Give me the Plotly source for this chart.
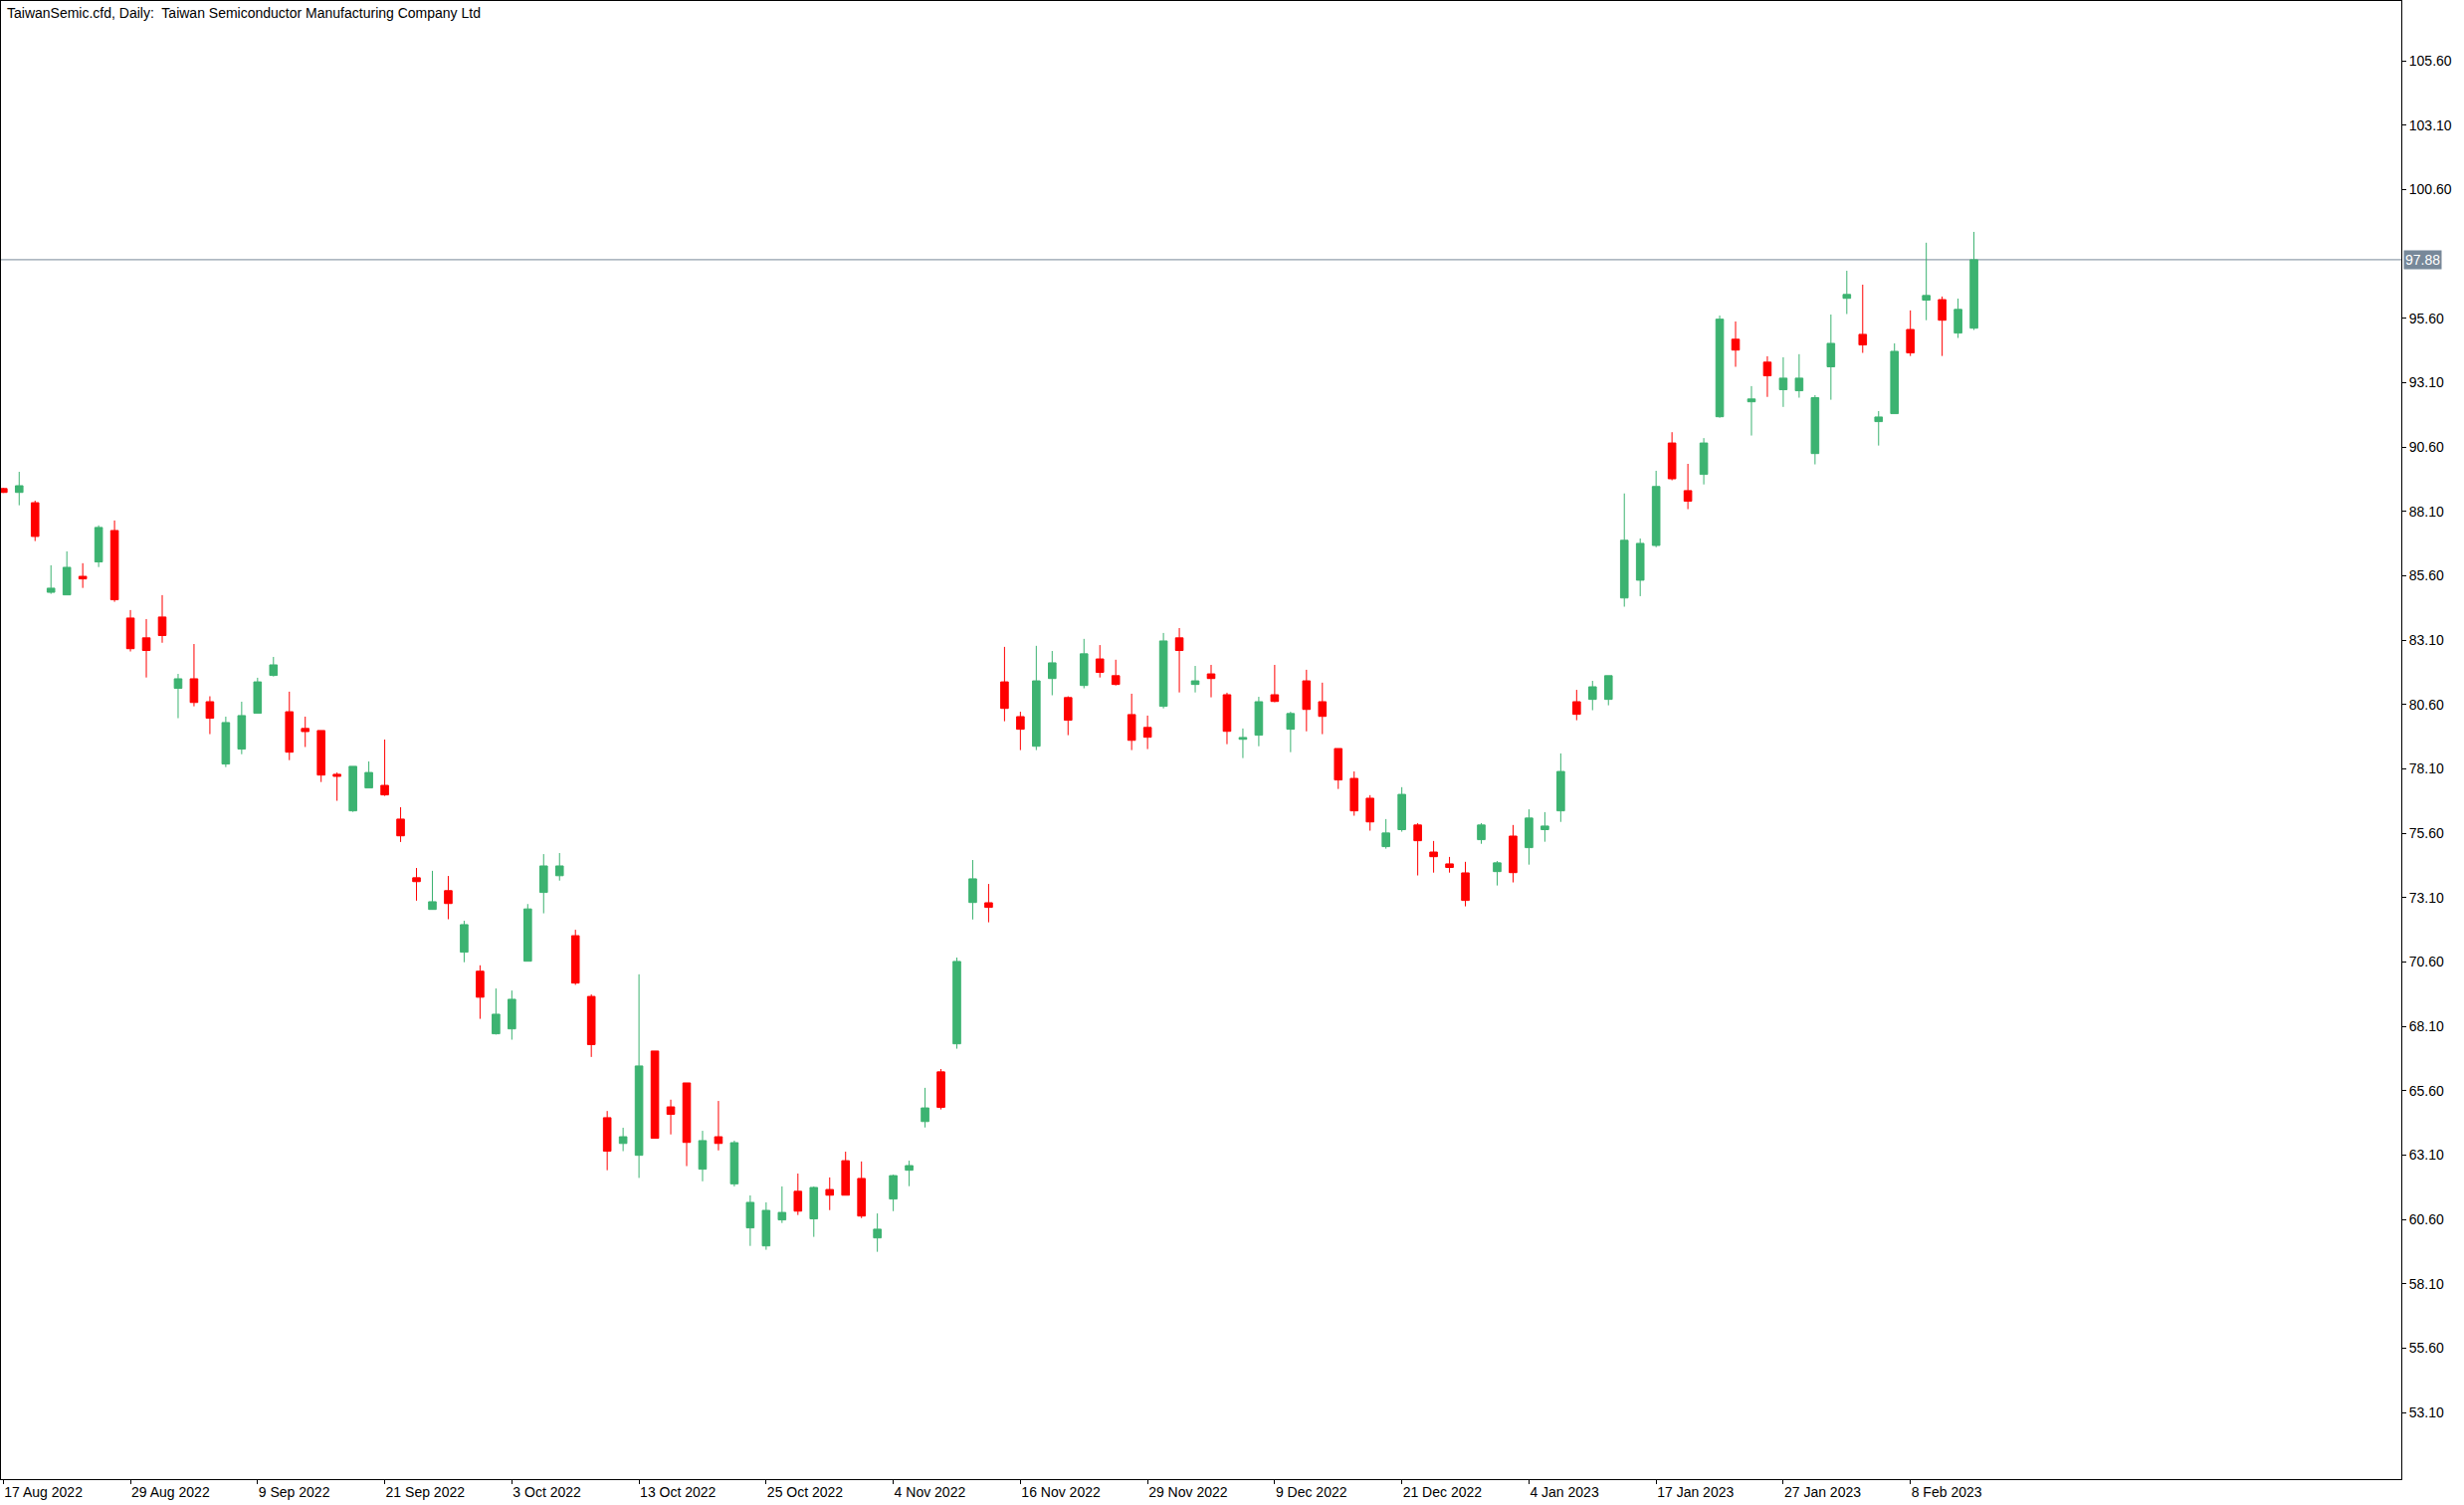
import pandas as pd
import plotly.graph_objects as go

# ---------------- data ----------------
HOLIDAYS = ["2022-09-05", "2022-11-24", "2022-12-26", "2023-01-02", "2023-01-16"]
DATES = [d.strftime("%Y-%m-%d") for d in
         pd.bdate_range("2022-08-17", "2023-02-14", freq="C", holidays=HOLIDAYS)]

OPEN = [88.99, 88.84, 88.44, 84.96, 84.86, 85.58, 86.14, 87.36, 83.96, 83.19,
        84.00, 81.23, 81.60, 80.71, 78.29, 78.87, 80.26, 81.73, 80.32, 79.67,
        79.59, 77.89, 76.47, 77.36, 77.46, 76.15, 73.87, 72.64, 73.37, 70.98,
        70.24, 67.81, 68.00, 70.63, 73.30, 73.95, 71.62, 69.26, 64.55, 63.55,
        63.09, 67.14, 64.97, 65.90, 62.55, 63.81, 61.98, 60.27, 59.57, 60.58,
        61.69, 60.62, 61.76, 62.88, 62.19, 59.88, 61.39, 62.51, 64.40, 66.33,
        67.42, 72.91, 72.90, 81.48, 80.13, 78.98, 81.61, 80.87, 81.34, 82.37,
        81.72, 80.21, 79.71, 80.53, 83.19, 81.38, 81.79, 80.98, 79.25, 79.41,
        80.98, 79.64, 81.52, 80.71, 78.89, 77.73, 76.96, 75.08, 75.74, 75.92,
        74.87, 74.41, 74.06, 75.35, 74.11, 75.49, 75.04, 75.74, 76.47, 80.71,
        80.80, 80.80, 84.74, 85.43, 86.78, 90.76, 88.91, 89.54, 91.78, 94.79,
        92.36, 93.90, 92.83, 92.79, 90.35, 93.72, 96.38, 94.98, 91.59, 91.90,
        95.17, 96.31, 96.33, 95.03, 95.22]
HIGH = [89.02, 89.64, 88.52, 86.01, 86.55, 86.09, 87.56, 87.75, 84.27, 83.92,
        84.85, 81.79, 82.95, 80.92, 80.13, 80.71, 81.64, 82.45, 81.10, 80.13,
        79.59, 77.96, 78.20, 78.39, 79.24, 76.61, 74.25, 74.14, 73.94, 72.20,
        70.47, 69.57, 69.49, 72.85, 74.79, 74.83, 71.85, 69.34, 64.81, 64.16,
        70.12, 67.14, 65.25, 65.90, 64.04, 65.20, 63.66, 61.53, 61.26, 61.88,
        62.38, 61.88, 62.23, 63.23, 62.85, 60.83, 62.34, 62.88, 65.71, 66.44,
        70.77, 74.56, 73.63, 82.84, 80.32, 82.88, 82.68, 80.92, 83.15, 82.91,
        82.34, 81.02, 80.17, 83.38, 83.57, 82.10, 82.14, 81.06, 79.67, 80.90,
        82.14, 80.32, 81.95, 81.45, 78.89, 78.00, 77.08, 76.15, 77.39, 75.99,
        75.30, 74.68, 74.49, 75.99, 74.52, 75.92, 76.53, 76.42, 78.70, 81.17,
        81.52, 81.72, 88.80, 87.05, 89.68, 91.18, 89.95, 90.95, 95.71, 95.48,
        92.97, 94.13, 94.09, 94.21, 92.62, 95.75, 97.45, 96.91, 92.00, 94.63,
        95.91, 98.54, 96.45, 96.37, 98.96]
LOW = [88.82, 88.34, 86.95, 84.90, 84.86, 85.13, 85.94, 84.59, 82.66, 81.65,
       83.00, 80.07, 80.53, 79.45, 78.17, 78.67, 80.26, 81.69, 78.44, 78.95,
       77.59, 76.86, 76.43, 77.36, 77.05, 75.26, 72.98, 72.63, 72.26, 70.59,
       68.39, 67.78, 67.58, 70.63, 72.49, 73.76, 69.71, 66.91, 62.51, 63.25,
       62.21, 63.75, 63.90, 62.67, 62.08, 63.28, 61.88, 59.57, 59.42, 60.46,
       60.77, 59.92, 60.96, 61.54, 60.65, 59.34, 60.92, 61.89, 64.17, 64.87,
       67.23, 72.25, 72.14, 79.95, 78.83, 78.83, 80.96, 79.41, 81.23, 81.65,
       81.34, 78.83, 78.87, 80.45, 81.07, 81.07, 80.88, 79.06, 78.52, 78.98,
       80.69, 78.75, 79.56, 79.45, 77.32, 76.28, 75.70, 75.00, 75.66, 73.96,
       74.07, 74.07, 72.76, 75.19, 73.57, 73.69, 74.38, 75.27, 76.04, 79.99,
       80.38, 80.57, 84.40, 84.81, 86.71, 89.31, 88.19, 89.15, 91.74, 93.72,
       91.05, 92.55, 92.16, 92.52, 89.93, 92.44, 95.77, 94.26, 90.66, 91.90,
       94.14, 95.53, 94.14, 94.84, 95.15]
CLOSE = [88.84, 89.10, 87.13, 85.12, 85.93, 85.48, 87.48, 84.67, 82.77, 82.70,
         83.28, 81.60, 80.68, 80.07, 79.90, 80.17, 81.48, 82.14, 78.75, 79.55,
         77.86, 77.81, 78.20, 77.96, 77.09, 75.50, 73.72, 72.94, 72.87, 72.05,
         69.23, 68.57, 69.15, 72.66, 74.33, 74.33, 69.78, 67.39, 63.25, 63.81,
         66.56, 63.75, 64.68, 63.59, 63.66, 63.55, 63.58, 61.26, 60.95, 60.87,
         60.92, 61.84, 61.54, 61.54, 60.73, 60.22, 62.30, 62.69, 64.93, 64.95,
         70.62, 73.83, 72.72, 80.45, 79.64, 81.52, 82.22, 79.99, 82.57, 81.85,
         81.38, 79.21, 79.33, 83.07, 82.70, 81.52, 81.61, 79.56, 79.32, 80.71,
         80.72, 80.25, 80.41, 80.14, 77.67, 76.47, 76.04, 75.61, 77.11, 75.31,
         74.69, 74.27, 72.99, 75.92, 74.45, 74.07, 76.19, 75.88, 78.00, 80.22,
         81.29, 81.72, 86.98, 86.86, 89.07, 89.37, 88.50, 90.76, 95.57, 94.37,
         92.47, 93.37, 93.28, 93.28, 92.52, 94.63, 96.53, 94.57, 91.77, 94.32,
         94.26, 96.49, 95.53, 95.95, 97.88]

TICK_DATES = ["2022-08-17", "2022-08-29", "2022-09-09", "2022-09-21", "2022-10-03",
              "2022-10-13", "2022-10-25", "2022-11-04", "2022-11-16", "2022-11-29",
              "2022-12-09", "2022-12-21", "2023-01-04", "2023-01-17", "2023-01-27",
              "2023-02-08"]
TICK_LABELS = ["17 Aug 2022", "29 Aug 2022", "9 Sep 2022", "21 Sep 2022", "3 Oct 2022",
               "13 Oct 2022", "25 Oct 2022", "4 Nov 2022", "16 Nov 2022", "29 Nov 2022",
               "9 Dec 2022", "21 Dec 2022", "4 Jan 2023", "17 Jan 2023", "27 Jan 2023",
               "8 Feb 2023"]

# price-axis ticks (98.10 sits under the current-price tag in the reference)
PRICE_TICKS = [53.10, 55.60, 58.10, 60.60, 63.10, 65.60, 68.10, 70.60, 73.10, 75.60,
               78.10, 80.60, 83.10, 85.60, 88.10, 90.60, 93.10, 95.60, 100.60,
               103.10, 105.60]

CURRENT_PRICE = 97.88
TITLE = "TaiwanSemic.cfd, Daily:  Taiwan Semiconductor Manufacturing Company Ltd"

# ---------------- figure ----------------
FONT = "Liberation Sans, Arial, sans-serif"
GREEN = "#3CB371"
RED = "#FF0000"

fig = go.Figure(go.Candlestick(
    x=DATES, open=OPEN, high=HIGH, low=LOW, close=CLOSE,
    increasing=dict(line=dict(color=GREEN, width=1), fillcolor=GREEN),
    decreasing=dict(line=dict(color=RED, width=1), fillcolor=RED),
    whiskerwidth=0, hoverinfo="skip", showlegend=False,
))

fig.add_shape(type="line", xref="paper", x0=0, x1=1, yref="y",
              y0=CURRENT_PRICE, y1=CURRENT_PRICE,
              line=dict(color="#778899", width=1), layer="below")

fig.add_annotation(xref="paper", x=1, xanchor="left", xshift=2,
                   yref="y", y=CURRENT_PRICE, yanchor="middle",
                   text=f"{CURRENT_PRICE:.2f}", showarrow=False,
                   bgcolor="#778899", borderpad=1,
                   font=dict(family=FONT, size=14, color="white"))

fig.add_annotation(xref="paper", x=0, xanchor="left", xshift=4,
                   yref="paper", y=1, yanchor="top", yshift=-2,
                   text=TITLE, showarrow=False,
                   font=dict(family=FONT, size=14, color="black"))

fig.update_layout(
    width=2476, height=1512,
    margin=dict(l=1, r=63, t=1, b=26),
    paper_bgcolor="white", plot_bgcolor="white",
    font=dict(family=FONT, size=14, color="black"),
    boxgap=0.32,
    xaxis=dict(
        type="category", range=[-0.144, 150.89],
        rangeslider=dict(visible=False),
        showgrid=False, zeroline=False,
        showline=True, linecolor="black", linewidth=1, mirror=True,
        tickmode="array", tickvals=TICK_DATES, ticktext=TICK_LABELS,
        ticks="outside", ticklen=4, tickcolor="black", tickwidth=1,
        ticklabelposition="outside right",
        tickfont=dict(family=FONT, size=14, color="black"),
    ),
    yaxis=dict(
        side="right", range=[50.51, 107.93],
        showgrid=False, zeroline=False,
        showline=True, linecolor="black", linewidth=1, mirror=True,
        tickmode="array", tickvals=PRICE_TICKS,
        ticktext=[f"{v:.2f}" for v in PRICE_TICKS],
        ticks="outside", ticklen=4, tickcolor="black", tickwidth=1,
        tickfont=dict(family=FONT, size=14, color="black"),
    ),
)

fig.write_html("out.html", config={"displayModeBar": False},
               post_script="document.body.style.margin='0';document.body.style.overflow='hidden';")
